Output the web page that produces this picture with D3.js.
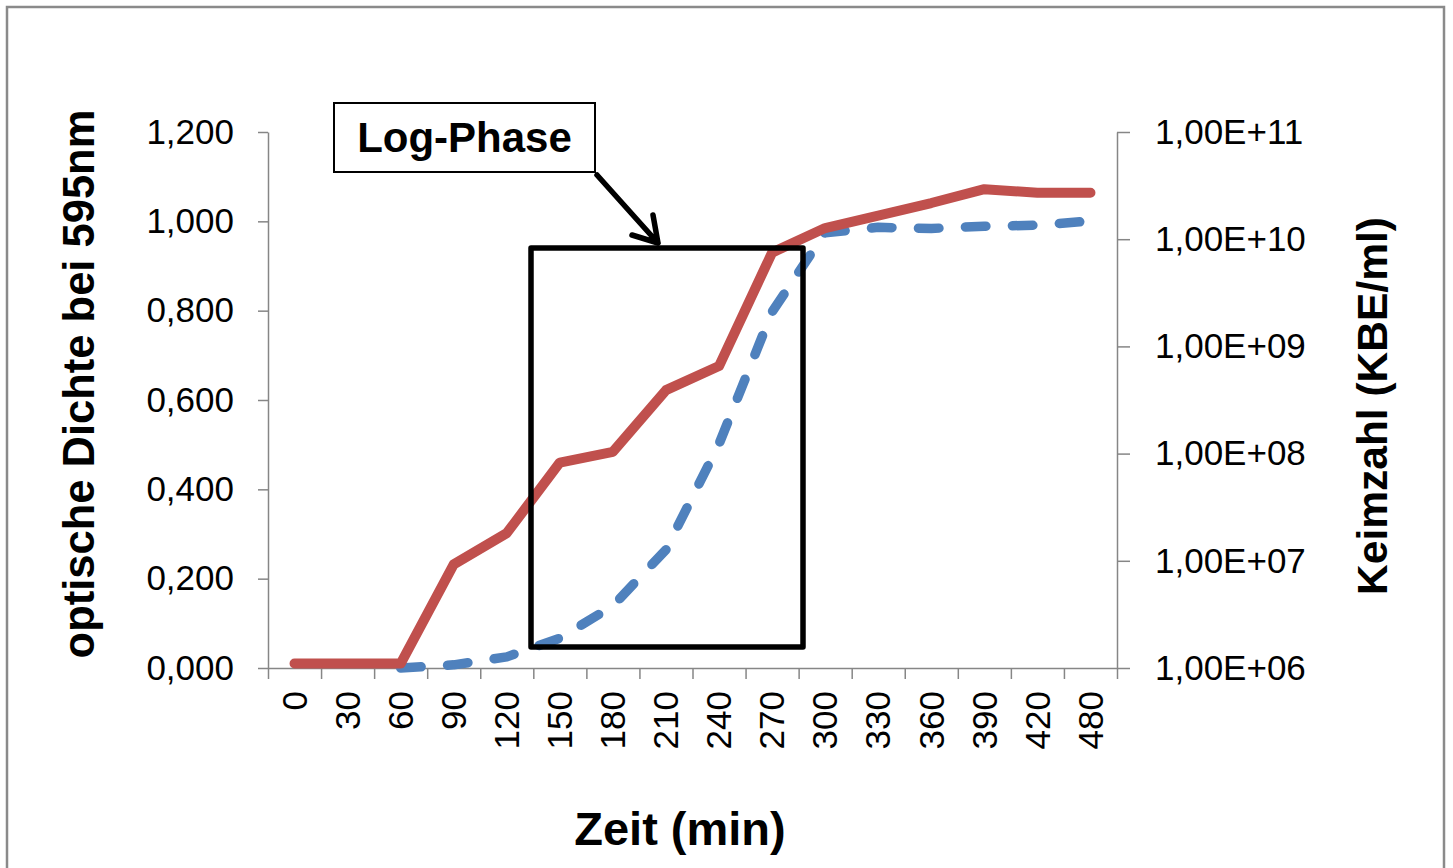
<!DOCTYPE html>
<html>
<head>
<meta charset="utf-8">
<script src="https://cdn.jsdelivr.net/npm/d3@7"></script>
<style>
  body { margin: 0; background: #fff; }
  svg text { font-family: "Liberation Sans", Arial, sans-serif; }
</style>
</head>
<body>
<div id="chart"></div>
<script>
// Zeit in min (450 fehlt im Original)
var zeiten = ['0','30','60','90','120','150','180','210','240','270','300','330','360','390','420','480'];
// optische Dichte (linke Achse)
var od595 = [0.010, 0.010, 0.010, 0.232, 0.302, 0.460, 0.484, 0.622, 0.676, 0.930, 0.985, 1.013, 1.041, 1.072, 1.064, 1.064];
// Keimzahl KBE/ml (rechte Achse, log) - erst ab 60 min sichtbar
var keimzahl = [null, null, 1.0e6, 1.07e6, 1.27e6, 1.9e6, 3.8e6, 1.27e7, 1.23e8, 2.1e9, 1.15e10, 1.29e10, 1.26e10, 1.32e10, 1.35e10, 1.48e10];

var ticksLinks = [0, 0.2, 0.4, 0.6, 0.8, 1.0, 1.2];
var ticksRechts = [1e6, 1e7, 1e8, 1e9, 1e10, 1e11];

const width = 1453;
const height = 868;
const plot = {left: 268, right: 1117, top: 132, bottom: 668};
const achsenFarbe = '#868686';

const svg = d3.select('#chart')
    .append('svg')
    .attr('width', width)
    .attr('height', height);

// Rahmen
svg.append('rect')
    .attr('x', 7).attr('y', 7)
    .attr('width', 1437).attr('height', 900)
    .attr('fill', 'none')
    .attr('stroke', '#8a8a8a')
    .attr('stroke-width', 2.5);

var x = d3.scaleBand()
    .domain(zeiten)
    .range([plot.left, plot.right]);

var xGrenzen = d3.scaleLinear()
    .domain([0, zeiten.length])
    .range([plot.left, plot.right]);

var yLinks = d3.scaleLinear()
    .domain([0, 1.2])
    .range([plot.bottom, plot.top]);

var yRechts = d3.scaleLog()
    .domain([1e6, 1e11])
    .range([plot.bottom, plot.top]);

function odFormat(d) {
    return d3.format('.3f')(d).replace('.', ',');
}
function expFormat(d) {
    var e = Math.round(Math.log10(d));
    return '1,00E+' + (e < 10 ? '0' + e : e);
}

// x-Achse
var xAchse = svg.append('g')
    .attr('transform', 'translate(0,' + plot.bottom + ')')
    .call(d3.axisBottom(xGrenzen)
        .tickValues(d3.range(zeiten.length + 1))
        .tickFormat('')
        .tickSize(11)
        .tickSizeOuter(0));

svg.selectAll('.xlabel')
    .data(zeiten)
    .enter()
    .append('text')
    .attr('class', 'xlabel')
    .attr('transform', function(d) {
        return 'translate(' + (x(d) + x.bandwidth() / 2) + ',691) rotate(-90)';
    })
    .attr('dy', '0.35em')
    .attr('text-anchor', 'end')
    .attr('font-size', 35)
    .attr('fill', '#000')
    .text(function(d) { return d; });

// linke Achse
var yAchseL = svg.append('g')
    .attr('transform', 'translate(' + plot.left + ',0)')
    .call(d3.axisLeft(yLinks)
        .tickValues(ticksLinks)
        .tickFormat(odFormat)
        .tickSize(10)
        .tickPadding(24)
        .tickSizeOuter(0));

// rechte Achse
var yAchseR = svg.append('g')
    .attr('transform', 'translate(' + plot.right + ',0)')
    .call(d3.axisRight(yRechts)
        .tickValues(ticksRechts)
        .tickFormat(expFormat)
        .tickSize(13)
        .tickPadding(25)
        .tickSizeOuter(0));

[xAchse, yAchseL, yAchseR].forEach(function(a) {
    a.selectAll('path, line').attr('stroke', achsenFarbe).attr('stroke-width', 1.5);
    a.selectAll('text')
        .attr('font-size', 35)
        .attr('fill', '#000')
        .style('font-family', '"Liberation Sans", Arial, sans-serif');
});

// Keimzahl (gestrichelt)
var linieKeim = d3.line()
    .defined(function(d) { return d != null; })
    .x(function(d, i) { return x(zeiten[i]) + x.bandwidth() / 2; })
    .y(function(d) { return yRechts(d); });

svg.append('path')
    .datum(keimzahl)
    .attr('d', linieKeim)
    .attr('fill', 'none')
    .attr('stroke', '#4F81BD')
    .attr('stroke-width', 9.5)
    .attr('stroke-dasharray', '20.5,26.5')
    .attr('stroke-linecap', 'round')
    .attr('stroke-linejoin', 'round');

// optische Dichte
var linieOD = d3.line()
    .x(function(d, i) { return x(zeiten[i]) + x.bandwidth() / 2; })
    .y(function(d) { return yLinks(d); });

svg.append('path')
    .datum(od595)
    .attr('d', linieOD)
    .attr('fill', 'none')
    .attr('stroke', '#C0504D')
    .attr('stroke-width', 10)
    .attr('stroke-linecap', 'round')
    .attr('stroke-linejoin', 'round');

// Markierung Log-Phase
svg.append('rect')
    .attr('x', 531).attr('y', 248)
    .attr('width', 272).attr('height', 399)
    .attr('fill', 'none')
    .attr('stroke', '#000')
    .attr('stroke-width', 5.5)
    .attr('stroke-linejoin', 'round');

svg.append('rect')
    .attr('x', 334).attr('y', 103)
    .attr('width', 261).attr('height', 69)
    .attr('fill', '#fff')
    .attr('stroke', '#000')
    .attr('stroke-width', 2);

svg.append('text')
    .attr('x', 464.5).attr('y', 152)
    .attr('text-anchor', 'middle')
    .attr('font-size', 42)
    .attr('font-weight', 'bold')
    .text('Log-Phase');

// Pfeil
svg.append('path')
    .attr('d', 'M597,175 L658,243 M632,235 L658,243 L653,215')
    .attr('fill', 'none')
    .attr('stroke', '#000')
    .attr('stroke-width', 5.5)
    .attr('stroke-linecap', 'round')
    .attr('stroke-linejoin', 'round');

// Achsentitel
svg.append('text')
    .attr('transform', 'translate(94,384) rotate(-90)')
    .attr('text-anchor', 'middle')
    .attr('font-size', 43.5)
    .attr('font-weight', 'bold')
    .text('optische Dichte bei 595nm');

svg.append('text')
    .attr('transform', 'translate(1387,406) rotate(-90)')
    .attr('text-anchor', 'middle')
    .attr('font-size', 42.5)
    .attr('font-weight', 'bold')
    .text('Keimzahl (KBE/ml)');

svg.append('text')
    .attr('x', 680).attr('y', 845)
    .attr('text-anchor', 'middle')
    .attr('font-size', 47)
    .attr('font-weight', 'bold')
    .text('Zeit (min)');
</script>
</body>
</html>
